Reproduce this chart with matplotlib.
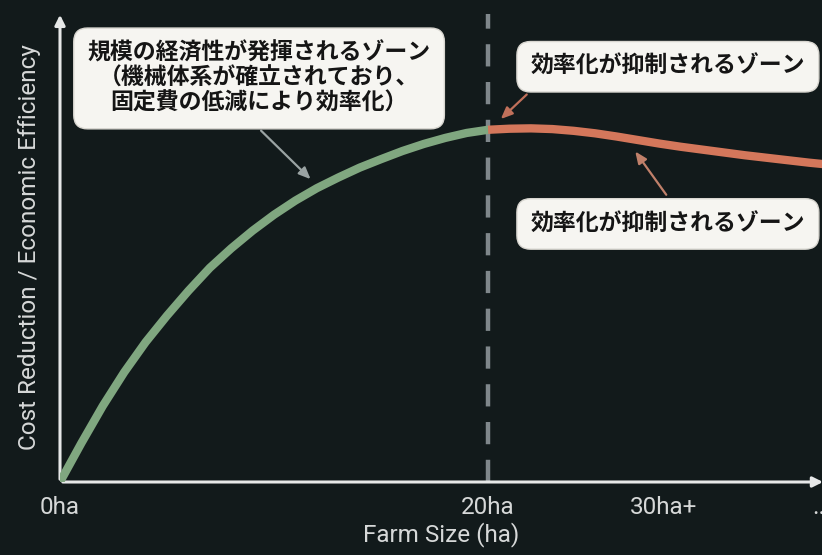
import matplotlib
matplotlib.use("Agg")
import matplotlib.pyplot as plt

plt.rcParams['font.family'] = ['Roboto', 'Noto Sans CJK JP', 'DejaVu Sans']

# Farm size (ha) and relative efficiency
growth_x = [0, 1, 2, 3, 4, 5, 6, 7, 8, 9, 10, 11, 12, 13, 14, 15, 16, 17, 18, 19, 20]
growth_y = [0, 11, 21.5, 31, 39.5, 47, 54, 60.5, 66, 71, 75.5, 79.5, 83, 86, 88.8,
            91.2, 93.5, 95.5, 97.2, 98.6, 99.5]
plateau_x = [20, 21, 22, 23, 24, 25, 26, 27, 28, 29, 30, 31, 32, 33, 34, 35, 36, 37]
plateau_y = [99.5, 99.8, 99.9, 99.7, 99.2, 98.5, 97.6, 96.6, 95.6, 94.7, 93.9,
             93.1, 92.3, 91.6, 90.9, 90.2, 89.6, 89.0]

threshold = 20
tick_pos = [0, 20, 28.2, 35.6]
tick_labels = ["0ha", "20ha", "30ha+", "..."]

x_label = "Farm Size (ha)"
y_label = "Cost Reduction / Economic Efficiency"
note_scale = "規模の経済性が発揮されるゾーン\n（機械体系が確立されており、\n固定費の低減により効率化）"
note_limit = "効率化が抑制されるゾーン"

BG = "#121a1b"
GREEN = "#80a780"
RED = "#d4775b"
AXIS = "#e6e8e8"
TEXT = "#d6d8d8"

fig = plt.figure(figsize=(8.22, 5.55), dpi=100, facecolor=BG)
ax = fig.add_axes([60 / 822, 73 / 555, 762 / 822, 470 / 555])
ax.set_facecolor(BG)
ax.set_xlim(0, 762 / 21.5)
ax.set_ylim(0, 470 / 3.54)

for s in ax.spines.values():
    s.set_visible(False)

# axes with arrow heads
ax.annotate("", xy=(1.005, 0), xytext=(0, 0), xycoords="axes fraction",
            arrowprops=dict(arrowstyle="-|>,head_length=0.6,head_width=0.3",
                            color=AXIS, lw=2.2), annotation_clip=False)
ax.annotate("", xy=(0, 1.0), xytext=(0, 0), xycoords="axes fraction",
            arrowprops=dict(arrowstyle="-|>,head_length=0.6,head_width=0.3",
                            color=AXIS, lw=2.2), annotation_clip=False)

# threshold line
ax.axvline(threshold, ymax=0.995, color="#7f878b", lw=3.2, dashes=(5, 3.5), zorder=1)

# efficiency curve
ax.plot(growth_x, growth_y, color=GREEN, lw=6, solid_capstyle="round", zorder=3)
ax.plot(plateau_x, plateau_y, color=RED, lw=6, solid_capstyle="butt", zorder=3)

ax.set_xticks(tick_pos, tick_labels)
ax.tick_params(axis="x", length=0, pad=10, labelsize=17.5, colors=TEXT)
ax.set_yticks([])
ax.set_xlabel(x_label, fontsize=17.5, color=TEXT, labelpad=2)
ax.set_ylabel(y_label, fontsize=17.5, color=TEXT, labelpad=14)

box = dict(boxstyle="round,pad=0.6,rounding_size=0.6", fc="#f6f5f1", ec="#d8d6d0", lw=1)
jp = ['Noto Sans CJK JP', 'DejaVu Sans']

ax.text(9.3, 114, note_scale, ha="center", va="center", fontsize=16.5,
        fontweight="bold", family=jp, color="#151515", bbox=box,
        linespacing=1.12, zorder=5)
ax.text(28.4, 117.3, note_limit, ha="center", va="center", fontsize=16.5,
        fontweight="bold", family=jp, color="#151515", bbox=box, zorder=5)
ax.text(28.4, 72.9, note_limit, ha="center", va="center", fontsize=16.5,
        fontweight="bold", family=jp, color="#151515", bbox=box, zorder=5)

ax.annotate("", xy=(11.8, 85), xytext=(9.3, 99.8),
            arrowprops=dict(arrowstyle="-|>,head_length=0.7,head_width=0.3",
                            color="#9aa3a3", lw=1.6), zorder=4)
ax.annotate("", xy=(20.5, 102), xytext=(21.9, 110),
            arrowprops=dict(arrowstyle="-|>,head_length=0.7,head_width=0.3",
                            color="#c0705a", lw=1.6), zorder=4)
ax.annotate("", xy=(26.8, 94), xytext=(28.4, 80.5),
            arrowprops=dict(arrowstyle="-|>,head_length=0.7,head_width=0.3",
                            color="#c0806a", lw=1.6), zorder=4)

fig.savefig("out.png", dpi=100, facecolor=BG)
